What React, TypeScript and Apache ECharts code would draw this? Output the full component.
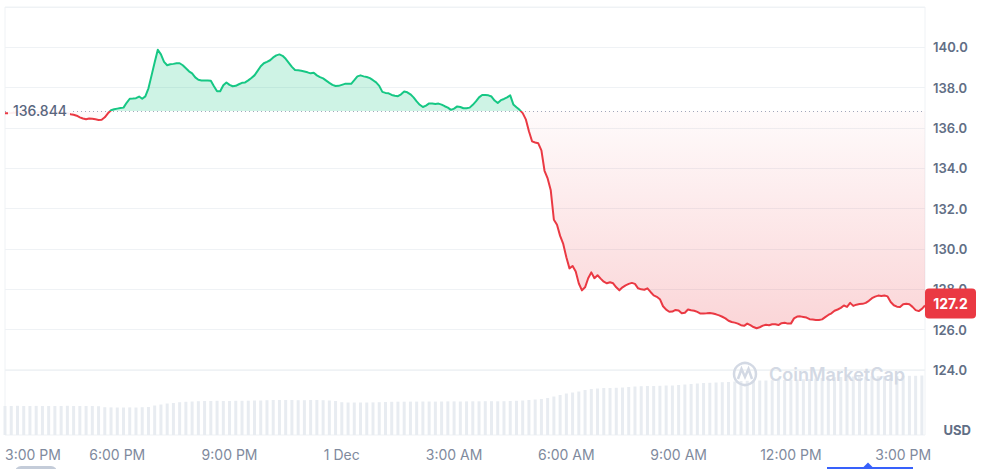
import React, { useEffect, useRef } from 'react';
import * as echarts from 'echarts';

const BASELINE = 136.844;
const LAST_PRICE_LABEL = '127.2';
const PRICE_STEP_MIN = 5;
const VOLUME_STEP_MIN = 10;
const X_LABEL_STEP_MIN = 180;

const xTickLabels = ['3:00 PM', '6:00 PM', '9:00 PM', '1 Dec', '3:00 AM', '6:00 AM', '9:00 AM', '12:00 PM', '3:00 PM'];

const prices = [
  136.73, 136.73, 136.74, 136.76, 136.78, 136.80, 136.78, 136.76, 136.74, 136.72,
  136.75, 136.78, 136.80, 136.77, 136.74, 136.72, 136.74, 136.76, 136.78, 136.75,
  136.73, 136.68, 136.66, 136.61, 136.53, 136.47, 136.43, 136.47, 136.46, 136.43,
  136.40, 136.41, 136.53, 136.73, 136.88, 136.93, 136.96, 136.99, 137.01, 137.25,
  137.45, 137.46, 137.48, 137.56, 137.45, 137.57, 137.97, 138.61, 139.26, 139.88,
  139.65, 139.28, 139.11, 139.16, 139.18, 139.21, 139.21, 139.11, 138.96, 138.81,
  138.71, 138.51, 138.39, 138.36, 138.36, 138.36, 138.34, 138.07, 137.82, 137.82,
  138.12, 138.26, 138.14, 138.07, 138.09, 138.17, 138.24, 138.26, 138.36, 138.48,
  138.61, 138.83, 139.06, 139.21, 139.28, 139.36, 139.50, 139.60, 139.65, 139.58,
  139.43, 139.23, 139.03, 138.88, 138.86, 138.84, 138.80, 138.76, 138.71, 138.74,
  138.61, 138.52, 138.46, 138.35, 138.24, 138.14, 138.08, 138.09, 138.14, 138.19,
  138.19, 138.19, 138.37, 138.56, 138.61, 138.56, 138.53, 138.47, 138.37, 138.26,
  138.09, 137.79, 137.74, 137.72, 137.64, 137.60, 137.58, 137.67, 137.81, 137.77,
  137.67, 137.52, 137.32, 137.15, 137.04, 137.11, 137.22, 137.21, 137.19, 137.21,
  137.16, 137.08, 137.01, 136.90, 136.96, 137.07, 137.04, 136.98, 136.98, 137.01,
  137.15, 137.32, 137.52, 137.64, 137.64, 137.62, 137.56, 137.36, 137.24, 137.38,
  137.44, 137.52, 137.62, 137.17, 137.03, 136.90, 136.74, 136.43, 135.84, 135.34,
  135.28, 135.24, 134.89, 133.88, 133.50, 132.91, 131.45, 131.20, 130.65, 130.25,
  129.59, 129.04, 129.16, 128.89, 128.29, 127.95, 128.10, 128.55, 128.84, 128.55,
  128.70, 128.53, 128.38, 128.30, 128.35, 128.30, 128.10, 127.95, 128.10, 128.20,
  128.27, 128.32, 128.27, 128.05, 128.00, 127.98, 128.05, 127.87, 127.70, 127.63,
  127.51, 127.16, 126.99, 126.89, 126.90, 126.98, 126.95, 126.81, 126.84, 127.00,
  126.96, 126.94, 126.88, 126.80, 126.80, 126.81, 126.83, 126.80, 126.76, 126.71,
  126.64, 126.56, 126.44, 126.38, 126.35, 126.30, 126.22, 126.19, 126.30, 126.22,
  126.13, 126.07, 126.12, 126.20, 126.24, 126.22, 126.27, 126.27, 126.23, 126.32,
  126.34, 126.30, 126.30, 126.56, 126.65, 126.66, 126.63, 126.60, 126.52, 126.50,
  126.48, 126.48, 126.51, 126.62, 126.73, 126.81, 126.94, 127.00, 127.08, 127.20,
  127.13, 127.33, 127.18, 127.24, 127.27, 127.28, 127.33, 127.43, 127.56, 127.64,
  127.69, 127.67, 127.69, 127.65, 127.37, 127.21, 127.14, 127.12, 127.26, 127.29,
  127.26, 127.13, 126.97, 126.92, 127.03, 127.20,
];

// 24h volume (billions USD), one value every 10 minutes
const volumes = [
  2.9, 2.9, 2.92, 2.9, 2.9, 2.91, 2.9, 2.9, 2.9, 2.9, 2.92, 2.9, 2.9, 2.9, 2.9, 2.88,
  2.78, 2.76, 2.75, 2.75, 2.76, 2.75, 2.78, 2.8,
  2.95, 3.05, 3.15, 3.2, 3.28, 3.32,
  3.35, 3.38, 3.4, 3.4, 3.42, 3.4, 3.4, 3.42, 3.42, 3.43, 3.45, 3.45,
  3.48, 3.5, 3.5, 3.5, 3.5, 3.48, 3.48, 3.5, 3.5, 3.48, 3.45, 3.4,
  3.28, 3.25, 3.25, 3.25, 3.25, 3.26, 3.28, 3.3,
  3.32, 3.33, 3.33, 3.34, 3.34, 3.35, 3.35, 3.34, 3.35, 3.36, 3.36, 3.35, 3.36, 3.37, 3.37, 3.38, 3.38, 3.37, 3.38, 3.4, 3.42, 3.45, 3.5, 3.55, 3.6,
  3.7, 3.85, 4.0, 4.15, 4.25, 4.35,
  4.5, 4.6, 4.65, 4.7, 4.7, 4.72, 4.75, 4.8,
  4.85, 4.88, 4.9, 4.9, 4.92, 4.95, 4.95, 5.0, 5.05, 5.1,
  5.15, 5.2, 5.22, 5.25, 5.28, 5.3, 5.35,
  5.4, 5.42, 5.45, 5.45, 5.45, 5.48, 5.5, 5.5, 5.52, 5.55, 5.58, 5.6, 5.65,
  5.7, 5.75, 5.78, 5.8, 5.82, 5.85, 5.85, 5.85, 5.88, 5.88, 5.9, 5.9, 5.9, 5.92, 5.92, 5.92, 5.95,
];

const GREEN = '#16c784';
const RED = '#ea3943';
const GRID_COLOR = '#eff2f5';
const FONT = 'Inter, "Noto Sans", sans-serif';
const CHART_W = 984;
const CHART_H = 469;

export default function App() {
  const ref = useRef<HTMLDivElement>(null);

  useEffect(() => {
    const chart = echarts.init(ref.current!, null, { renderer: 'svg' });
    const xMax = (prices.length - 1) * PRICE_STEP_MIN;
    const lineData = prices.map((p, i) => [i * PRICE_STEP_MIN, p]);
    const upData = prices.map((p, i) => [i * PRICE_STEP_MIN, Math.max(p, BASELINE)]);
    const downData = prices.map((p, i) => [i * PRICE_STEP_MIN, Math.min(p, BASELINE)]);
    const volData = volumes.map((v, i) => [i * VOLUME_STEP_MIN, v]);

    chart.setOption({
      animation: false,
      textStyle: { fontFamily: FONT },
      grid: [
        { left: 5, right: 59, top: 7, bottom: 99, show: true, borderColor: GRID_COLOR, borderWidth: 1 },
        { left: 5, right: 59, top: 370, bottom: 34, show: true, borderColor: GRID_COLOR, borderWidth: 1 },
      ],
      xAxis: [
        { type: 'value', gridIndex: 0, min: 0, max: xMax, show: false },
        {
          type: 'value', gridIndex: 1, min: 0, max: xMax, interval: X_LABEL_STEP_MIN,
          axisLine: { show: false }, axisTick: { show: false }, splitLine: { show: false },
          axisLabel: {
            color: '#808a9d', fontSize: 14, margin: 12, showMaxLabel: false, alignMinLabel: 'left',
            formatter: (v: number) => {
              const k = Math.round(v / X_LABEL_STEP_MIN);
              return Math.abs(v - k * X_LABEL_STEP_MIN) < 1e-6 ? (xTickLabels[k] ?? '') : '';
            },
          },
        },
      ],
      yAxis: [
        {
          type: 'value', gridIndex: 0, position: 'right', min: 124, max: 142, interval: 2,
          axisLine: { show: false }, axisTick: { show: false },
          splitLine: { lineStyle: { color: GRID_COLOR, width: 1 } },
          axisLabel: {
            color: '#616e85', fontSize: 13, fontWeight: 600, margin: 8, showMaxLabel: false,
            formatter: (v: number) => v.toFixed(1),
          },
        },
        { type: 'value', gridIndex: 1, min: 0, max: 6.5, show: false },
      ],
      series: [
        {
          id: 'price', type: 'line', data: lineData, symbol: 'none', z: 5,
          lineStyle: { width: 2, join: 'round', color: RED },
          markLine: {
            silent: true, symbol: ['none', 'none'], label: { show: false },
            lineStyle: { type: [1, 3], color: '#a1a7bb', width: 1 },
            data: [{ yAxis: BASELINE }],
          },
        },
        {
          type: 'line', data: upData, symbol: 'none', z: 2,
          lineStyle: { width: 0 },
          areaStyle: { origin: BASELINE, color: 'rgba(22,199,132,0.3)' },
        },
        {
          type: 'line', data: downData, symbol: 'none', z: 2,
          lineStyle: { width: 0 },
          areaStyle: {
            origin: BASELINE,
            color: new echarts.graphic.LinearGradient(0, 0, 0, 1, [
              { offset: 0, color: 'rgba(234,57,67,0.03)' },
              { offset: 1, color: 'rgba(234,57,67,0.3)' },
            ]),
          },
        },
        {
          type: 'bar', xAxisIndex: 1, yAxisIndex: 1, data: volData, barWidth: 3,
          itemStyle: { color: '#e8ecf1' }, z: 1,
        },
      ],
    });

    const [px, py] = chart.convertToPixel({ gridIndex: 0 }, [xMax, prices[prices.length - 1]]) as number[];
    const [, by] = chart.convertToPixel({ gridIndex: 0 }, [0, BASELINE]) as number[];
    const split = by / CHART_H;
    const wmColor = '#d3d9e4';
    const boxCy = py - 2;

    chart.setOption({
      series: [
        {
          id: 'price',
          lineStyle: {
            color: new echarts.graphic.LinearGradient(0, 0, 0, CHART_H, [
              { offset: 0, color: GREEN },
              { offset: split, color: GREEN },
              { offset: split, color: RED },
              { offset: 1, color: RED },
            ], true),
          },
        },
      ],
      graphic: [
        { type: 'rect', id: 'baseBg', shape: { x: 8, y: by - 10, width: 62, height: 20 }, style: { fill: 'rgba(255,255,255,0.92)' }, z: 10 },
        { type: 'text', id: 'baseTxt', x: 13, y: by, style: { text: String(BASELINE), fill: '#58667e', fontSize: 14, fontWeight: 500, fontFamily: FONT, verticalAlign: 'middle' }, z: 11 },
        { type: 'rect', id: 'lastBg', shape: { x: px, y: boxCy - 15, width: 51, height: 30, r: 4 }, style: { fill: RED }, z: 10 },
        { type: 'text', id: 'lastTxt', x: px + 25.5, y: boxCy, style: { text: LAST_PRICE_LABEL, fill: '#ffffff', fontSize: 14, fontWeight: 700, fontFamily: FONT, align: 'center', verticalAlign: 'middle' }, z: 11 },
        { type: 'text', id: 'usd', x: 971, y: 430, style: { text: 'USD', fill: '#616e85', fontSize: 13, fontWeight: 700, fontFamily: FONT, align: 'right', verticalAlign: 'middle' }, z: 11 },
        { type: 'circle', id: 'wmC', shape: { cx: 745, cy: 374, r: 11 }, style: { fill: 'none', stroke: wmColor, lineWidth: 2.5 }, z: 3 },
        { type: 'polyline', id: 'wmL', shape: { points: [[738, 379], [741.5, 369], [745, 377], [748.5, 369], [752, 379]] }, style: { fill: 'none', stroke: wmColor, lineWidth: 2.5 }, z: 3 },
        { type: 'text', id: 'wmT', x: 769, y: 374, style: { text: 'CoinMarketCap', fill: wmColor, fontSize: 18, fontWeight: 600, fontFamily: FONT, verticalAlign: 'middle' }, z: 3 },
        { type: 'rect', id: 'pill', shape: { x: 15, y: 466, width: 42, height: 12, r: 6 }, style: { fill: '#c4ccd9' }, z: 3 },
        { type: 'rect', id: 'blueBar', shape: { x: 827, y: 467, width: 86, height: 3 }, style: { fill: '#3861fb' }, z: 3 },
        { type: 'polygon', id: 'blueTri', shape: { points: [[863, 467.5], [868, 462.5], [873, 467.5]] }, style: { fill: '#3861fb' }, z: 3 },
      ],
    });

    return () => chart.dispose();
  }, []);

  return <div ref={ref} style={{ position: 'absolute', left: 0, top: 0, width: CHART_W, height: CHART_H }} />;
}
